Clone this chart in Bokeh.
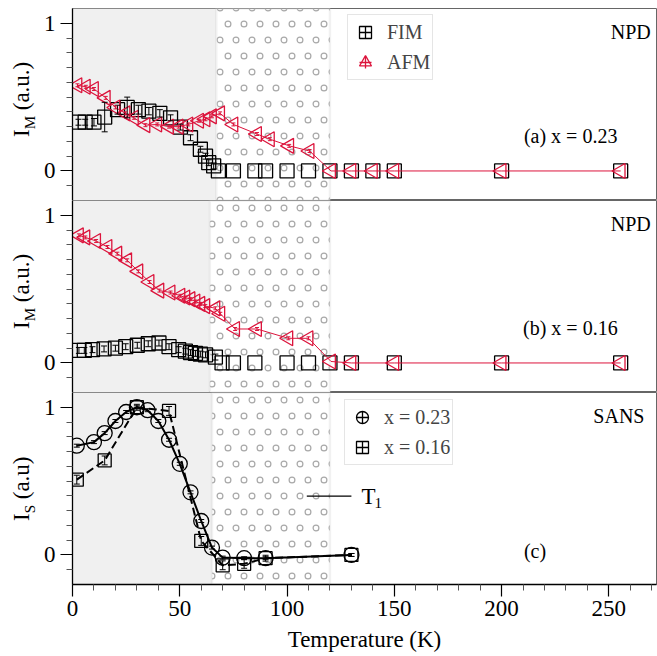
import base64
import numpy as np
from bokeh.plotting import figure
from bokeh.models import (ColumnDataSource, Whisker, TeeHead, BoxAnnotation, Label,
                          Legend, LegendItem, Range1d, FixedTicker, ImageURLTexture)
from bokeh.layouts import column, row
from bokeh.embed import file_html
from bokeh.resources import INLINE

FONT = "Liberation Serif"
RED = "#dc143c"

# ---------------- data ----------------
# (a) NPD, x = 0.23
Ta_fim = [2.8, 5.9, 10, 15, 21, 25.5, 30.7, 35.6, 40.7, 45.7, 50.3, 55, 59.6, 62, 63.5, 65.8,
          68, 75, 85, 90, 100, 110, 120, 130, 140, 150, 200, 255.5]
Ia_fim = [0.33, 0.33, 0.33, 0.365, 0.415, 0.43, 0.415, 0.405, 0.39, 0.36, 0.297, 0.225, 0.147,
          0.10, 0.056, 0.034, 0, 0, 0, 0, 0, 0, 0, 0, 0, 0, 0, 0]
Ea_fim = [0.02, 0.02, 0.025, 0.1, 0.03, 0.07, 0.03, 0.025, 0.025, 0.02, 0.02, 0.02, 0.02,
          0.02, 0.02, 0.02, 0, 0, 0, 0, 0, 0, 0, 0, 0, 0, 0, 0]
Ta_afm = [2.3, 6.2, 10, 15.5, 20, 24.7, 28.6, 34, 39.5, 45, 49.5, 54, 59, 62, 65, 68.8,
          75, 86, 92, 101, 110.5, 120.5, 130, 140, 150, 200, 255.5]
Ia_afm = [0.58, 0.57, 0.555, 0.495, 0.43, 0.39, 0.36, 0.31, 0.315, 0.30, 0.30, 0.315, 0.34,
          0.35, 0.37, 0.39, 0.315, 0.25, 0.215, 0.17, 0.135, 0.0, 0, 0, 0, 0, 0]
Ea_afm = [0.01, 0.01, 0.01, 0.01, 0.01, 0.01, 0.01, 0.01, 0.01, 0.01, 0.01, 0.01, 0.01,
          0.01, 0.01, 0.01, 0.01, 0.01, 0.01, 0.01, 0.01, 0, 0, 0, 0, 0, 0]

# (b) NPD, x = 0.16
Tb_fim = [3, 5.5, 9.3, 14.7, 20, 24.8, 30.2, 35.3, 40.3, 45, 49.5, 52.6, 55, 57.3, 59.6, 62,
          66.6, 69.7, 75, 85, 100, 110, 120, 130, 150, 200, 255.5]
Ib_fim = [0.085, 0.085, 0.09, 0.095, 0.10, 0.11, 0.12, 0.13, 0.135, 0.11, 0.09, 0.08, 0.07,
          0.065, 0.06, 0.055, 0.04, 0.0, 0, 0, 0, 0, 0, 0, 0, 0, 0]
Eb_fim = [0.02, 0.02, 0.02, 0.02, 0.02, 0.02, 0.02, 0.02, 0.02, 0.02, 0.02, 0.02, 0.02,
          0.02, 0.02, 0.02, 0.02, 0, 0, 0, 0, 0, 0, 0, 0, 0, 0]
Tb_afm = [3, 6, 11, 16.3, 20.9, 25.5, 30.7, 35.9, 40.5, 45.7, 50.3, 52.6, 55, 57.3, 59.6, 61.9,
          66.6, 68.9, 75.8, 86, 100.6, 110, 120.5, 130, 150, 200, 255.5]
Ib_afm = [0.864, 0.85, 0.826, 0.785, 0.74, 0.695, 0.62, 0.548, 0.49, 0.477, 0.455, 0.443, 0.432,
          0.416, 0.40, 0.385, 0.37, 0.333, 0.23, 0.23, 0.167, 0.167, 0.01, 0, 0, 0, 0]
Eb_afm = [0.01, 0.01, 0.01, 0.01, 0.01, 0.01, 0.01, 0.01, 0.01, 0.01, 0.01, 0.01, 0.01,
          0.01, 0.01, 0.01, 0.01, 0.01, 0.01, 0.01, 0.01, 0.01, 0, 0, 0, 0, 0]

# (c) SANS
Tc_23 = [2, 10, 15, 20, 25, 30, 35, 40, 45, 50, 55, 60, 65, 70, 80, 90, 130]
Ic_23 = [0.74, 0.764, 0.825, 0.907, 0.968, 1.0, 0.98, 0.907, 0.78, 0.617, 0.424, 0.23, 0.05,
         -0.018, -0.022, -0.022, 0.0]
Ec_23 = [0.01, 0.01, 0.01, 0.01, 0.01, 0.01, 0.01, 0.01, 0.01, 0.01, 0.01, 0.01, 0.01,
         0.01, 0.01, 0.01, 0.01]
Tc_16 = [2, 15, 30, 45, 60, 70, 80, 90, 130]
Ic_16 = [0.51, 0.64, 1.0, 0.975, 0.095, -0.07, -0.06, -0.022, 0.0]
Ec_16 = [0.03, 0.03, 0.02, 0.03, 0.03, 0.03, 0.03, 0.02, 0.01]

x_ticks = [0, 50, 100, 150, 200, 250]
x_minor = [10, 20, 30, 40, 60, 70, 80, 90, 110, 120, 130, 140, 160, 170, 180, 190,
           210, 220, 230, 240, 260, 270]
y_ticks = [0, 1]
y_minor = [-0.1, 0.1, 0.2, 0.3, 0.4, 0.5, 0.6, 0.7, 0.8, 0.9]

X_RANGE = Range1d(0, 272.2)
LABW = 40

# staggered ring texture for the 66-120 K band
_svg = ('<svg xmlns="http://www.w3.org/2000/svg" width="16" height="32">'
        '<circle cx="4" cy="8" r="2.9" fill="none" stroke="#a8a8a8" stroke-width="1.2"/>'
        '<circle cx="12" cy="24" r="2.9" fill="none" stroke="#a8a8a8" stroke-width="1.2"/>'
        '</svg>')
RING_URL = "data:image/svg+xml;base64," + base64.b64encode(_svg.encode()).decode()


def src(T, I, E, only_err=False):
    rows = [(t, i, e) for t, i, e in zip(T, I, E) if (e > 0 or not only_err)]
    return ColumnDataSource(dict(T=[r[0] for r in rows], I=[r[1] for r in rows],
                                 lo=[r[1] - r[2] for r in rows],
                                 hi=[r[1] + r[2] for r in rows]))


def panel(height, top, bottom, show_x):
    p = figure(width=657 - LABW, height=height, x_range=X_RANGE, y_range=Range1d(-0.2, 1.1),
               output_backend="svg", toolbar_location=None,
               min_border_left=70 - LABW, min_border_right=1, min_border_top=top,
               min_border_bottom=bottom)
    p.grid.visible = False
    p.outline_line_color = "#666666"
    p.outline_line_width = 1
    p.yaxis.ticker = FixedTicker(ticks=y_ticks, minor_ticks=y_minor)
    p.xaxis.ticker = FixedTicker(ticks=x_ticks, minor_ticks=x_minor)
    for ax in (p.xaxis[0], p.yaxis[0]):
        ax.major_tick_out = 12
        ax.major_tick_in = 0
        ax.minor_tick_out = 6
        ax.minor_tick_in = 0
        ax.axis_line_color = "black"
        ax.axis_line_width = 1.3
        ax.major_tick_line_width = 1.2
        ax.minor_tick_line_color = "#555555"
        ax.major_label_text_font = FONT
        ax.major_label_text_font_size = "23px"
        ax.major_label_text_color = "black"
        ax.axis_label_text_font = FONT
        ax.axis_label_text_font_size = "23px"
        ax.axis_label_text_font_style = "normal"
        ax.axis_label_text_color = "black"
    p.yaxis.major_label_standoff = 5
    p.xaxis.major_label_standoff = 4
    if show_x:
        p.xaxis.axis_label = "Temperature (K)"
        p.xaxis.axis_label_standoff = 8
    else:
        p.xaxis.visible = False
    return p


def label_fig(height, top, bottom, sub, rest, rest_y):
    f = figure(width=LABW, height=height, x_range=Range1d(0, LABW),
               y_range=Range1d(-0.2, 1.1), output_backend="svg", toolbar_location=None,
               min_border_left=0, min_border_right=0, min_border_top=top,
               min_border_bottom=bottom)
    f.axis.visible = False
    f.grid.visible = False
    f.outline_line_color = None
    kw = dict(angle=np.pi / 2, text_font=FONT, text_color="black", text_align="left",
              text_baseline="middle")
    f.text(x=[21], y=[0.23], text=["I"], text_font_size="23px", **kw)
    f.text(x=[29], y=[0.282], text=[sub], text_font_size="15px", **kw)
    f.text(x=[21], y=[rest_y], text=[rest], text_font_size="23px", **kw)
    return f


def bands(p, edge):
    p.add_layout(BoxAnnotation(right=edge, fill_color="#f0f0f0", fill_alpha=1,
                               line_alpha=0, level="underlay"))
    p.add_layout(BoxAnnotation(left=edge, right=120, fill_color="white", fill_alpha=1,
                               hatch_pattern="rings",
                               hatch_extra={"rings": ImageURLTexture(url=RING_URL)},
                               hatch_color="#a8a8a8", hatch_alpha=1.0,
                               line_color="#d0d0d0", line_width=2.5, level="underlay"))


def txt(p, x, y, t, align="left", size="20px"):
    p.add_layout(Label(x=x, y=y, text=t, text_font=FONT, text_font_size=size,
                       text_align=align, text_baseline="middle", text_color="black"))


def errs(p, s, color, head):
    p.add_layout(Whisker(source=s, base="T", lower="lo", upper="hi", dimension="height",
                         line_color=color, line_width=1,
                         upper_head=TeeHead(size=head, line_color=color, line_width=1),
                         lower_head=TeeHead(size=head, line_color=color, line_width=1),
                         level="glyph"))


def npd_panel(p, Tf, If, Ef, Ta, Ia, Ea):
    sf = src(Tf, If, Ef)
    sa = src(Ta, Ia, Ea)
    errs(p, src(Tf, If, Ef, True), "black", 6)
    p.scatter("T", "I", source=sf, marker="square", size=14, fill_color=None,
              line_color="black", line_width=1.3)
    p.line("T", "I", source=sa, line_color=RED, line_width=1)
    errs(p, src(Ta, Ia, Ea, True), RED, 4)
    p.scatter("T", "I", source=sa, marker="triangle", angle=np.pi / 2, size=15,
              fill_color=None, line_color=RED, line_width=1.3)
    return sf, sa


def legend(p, items, loc):
    lg = Legend(items=items, location=loc, label_text_font=FONT, label_text_font_size="20px",
                glyph_height=30, glyph_width=30, label_standoff=7, padding=2, spacing=0,
                margin=0, border_line_color="#cccccc", border_line_width=1.2,
                background_fill_alpha=0.85, label_height=30, inactive_fill_alpha=0)
    p.add_layout(lg)


# ---------------- panel (a) ----------------
pa = panel(200, 8, 0, False)
bands(pa, 67)
sfa, saa = npd_panel(pa, Ta_fim, Ia_fim, Ea_fim, Ta_afm, Ia_afm, Ea_afm)
txt(pa, 269.5, 0.938, "NPD", align="right")
txt(pa, 210.4, 0.24, "(a) x = 0.23")
lg_f = pa.scatter("T", "I", source=sfa, marker="square_cross", fill_color=None,
                  line_color="black", line_width=1.3, visible=False)
lg_a1 = pa.scatter("T", "I", source=saa, marker="triangle", angle=np.pi / 2,
                   fill_color=None, line_color=RED, line_width=1.3, visible=False)
lg_a2 = pa.scatter("T", "I", source=saa, marker="cross", line_color=RED, line_width=1.3,
                   visible=False)
legend(pa, [LegendItem(label="FIM", renderers=[lg_f]),
            LegendItem(label="AFM", renderers=[lg_a1, lg_a2])], (275, 120))
la = label_fig(200, 8, 0, "M", "(a.u.)", 0.411)

# ---------------- panel (b) ----------------
pb = panel(192, 0, 0, False)
bands(pb, 64)
npd_panel(pb, Tb_fim, Ib_fim, Eb_fim, Tb_afm, Ib_afm, Eb_afm)
txt(pb, 269.5, 0.944, "NPD", align="right")
txt(pb, 210.0, 0.24, "(b) x = 0.16")
lb = label_fig(192, 0, 0, "M", "(a.u.)", 0.411)

# ---------------- panel (c) ----------------
pc = panel(264, 0, 72, True)
bands(pc, 65)
s23 = src(Tc_23, Ic_23, Ec_23)
s16 = src(Tc_16, Ic_16, Ec_16)
pc.line("T", "I", source=s23, line_color="black", line_width=2)
errs(pc, s23, "black", 6)
pc.scatter("T", "I", source=s23, marker="circle", size=15, fill_color=None,
           line_color="black", line_width=1.3)
pc.line("T", "I", source=s16, line_color="black", line_width=2, line_dash="8 4")
errs(pc, s16, "black", 6)
pc.scatter("T", "I", source=s16, marker="square", size=13, fill_color=None,
           line_color="black", line_width=1.3)
txt(pc, 266.6, 0.944, "SANS", align="right")
txt(pc, 210.4, 0.03, "(c)")
pc.line(x=[109.2, 130.0], y=[0.398, 0.398], line_color="black", line_width=1.2)
pc.add_layout(Label(x=134.7, y=0.398, text="T", text_font=FONT, text_font_size="23px",
                    text_baseline="middle", text_align="left", text_color="black"))
pc.add_layout(Label(x=140.8, y=0.355, text="1", text_font=FONT, text_font_size="15px",
                    text_baseline="middle", text_align="left", text_color="black"))
lg_c1 = pc.scatter("T", "I", source=s23, marker="circle_cross", fill_color=None,
                   line_color="black", line_width=1.3, visible=False)
lg_c2 = pc.scatter("T", "I", source=s16, marker="square_cross", fill_color=None,
                   line_color="black", line_width=1.3, visible=False)
legend(pc, [LegendItem(label="x = 0.23", renderers=[lg_c1]),
            LegendItem(label="x = 0.16", renderers=[lg_c2])], (272, 119))
lc = label_fig(264, 0, 72, "S", "(a.u)", 0.377)

layout = column(row(la, pa, spacing=0), row(lb, pb, spacing=0), row(lc, pc, spacing=0),
                spacing=0)
open("out.html", "w").write(file_html(layout, INLINE))
